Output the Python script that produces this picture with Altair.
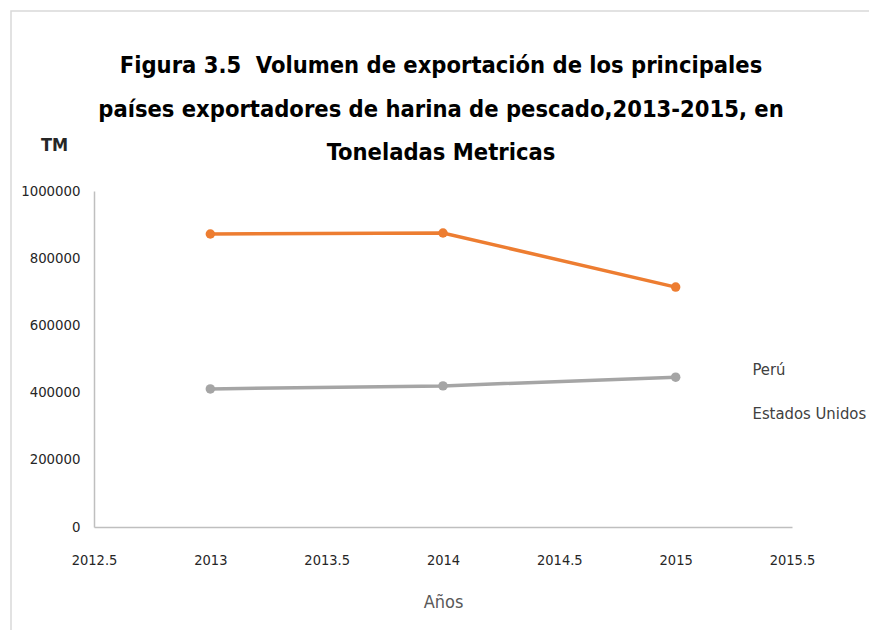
import altair as alt
import pandas as pd

years = [2013, 2014, 2015]
peru = [872000, 875000, 714000]
eeuu = [411000, 420000, 446000]
series_names = ["Perú", "Estados Unidos"]
series_colors = ["#ED7D31", "#A5A5A5"]
x_ticks = [2012.5, 2013, 2013.5, 2014, 2014.5, 2015, 2015.5]
y_ticks = [0, 200000, 400000, 600000, 800000, 1000000]

title_lines = [
    "Figura 3.5\u00a0 Volumen de exportación de los principales",
    "países exportadores de harina de pescado,2013-2015, en",
    "Toneladas Metricas",
]

rows = []
for name, vals in zip(series_names, [peru, eeuu]):
    for y, v in zip(years, vals):
        rows.append({"Año": y, "Valor": v, "Serie": name})
df = pd.DataFrame(rows)

FONT = "DejaVu Sans Condensed, Liberation Sans, sans-serif"

x_enc = alt.X(
    "Año:Q",
    scale=alt.Scale(domain=[2012.5, 2015.5], nice=False, zero=False),
    axis=alt.Axis(
        values=x_ticks, format="~g", title="Años", ticks=False, grid=False,
        labelFontSize=14.5, labelColor="#262626", labelPadding=26, labelFont=FONT,
        labelFlush=False,
        titleFontSize=18, titleColor="#595959", titleFont=FONT, titleFontWeight="normal",
        titlePadding=27, domainColor="#BFBFBF", domainWidth=1.5,
    ),
)
y_enc = alt.Y(
    "Valor:Q",
    scale=alt.Scale(domain=[0, 1000000], nice=False),
    axis=alt.Axis(
        values=y_ticks, format="d", title="TM", ticks=False, grid=False,
        labelFontSize=14.8, labelColor="#262626", labelPadding=14, labelFont=FONT,
        labelFlush=False,
        titleAngle=0, titleX=-40, titleY=-41, titleAlign="center", titleBaseline="alphabetic",
        titleFontSize=18, titleColor="#262626", titleFont=FONT, titleFontWeight="bold",
        domainColor="#BFBFBF", domainWidth=1.5,
    ),
)
color_enc = alt.Color(
    "Serie:N",
    scale=alt.Scale(domain=series_names, range=series_colors),
    legend=alt.Legend(
        title=None, orient="none", legendX=642, legendY=171,
        symbolOpacity=0, symbolSize=1, symbolStrokeWidth=0,
        labelFontSize=16.5, labelFont=FONT, labelColor="#404040",
        rowPadding=27, labelOffset=0, symbolType="circle",
    ),
)

base = alt.Chart(df)
lines = base.mark_line(strokeWidth=3.5).encode(x=x_enc, y=y_enc, color=color_enc, detail="Serie:N")
points = base.mark_point(filled=True, size=90, opacity=1, shape="circle").encode(
    x="Año:Q", y="Valor:Q", color=alt.Color("Serie:N", legend=None,
                                           scale=alt.Scale(domain=series_names, range=series_colors))
)
border = alt.Chart(pd.DataFrame({"a": [0]})).mark_rect(
    fill=None, stroke="#D9D9D9", strokeWidth=1.5
).encode(x=alt.value(-83), x2=alt.value(900), y=alt.value(-180), y2=alt.value(480))

title = alt.Chart(pd.DataFrame({"t": ["\n".join(title_lines)]})).mark_text(
    font=FONT, fontSize=23.5, fontWeight="bold", color="#000000",
    lineBreak="\n", lineHeight=43.5, align="center", baseline="top",
).encode(text="t:N", x=alt.value(347), y=alt.value(-137))

chart = alt.layer(border, lines, points, title).properties(
    width=698,
    height=336,
    padding={"left": 86, "top": 183, "right": 77, "bottom": 103},
    autosize=alt.AutoSizeParams(type="none"),
).configure(background="white").configure_view(stroke=None)

chart.save("out.html", embed_options={"renderer": "svg", "actions": False})
